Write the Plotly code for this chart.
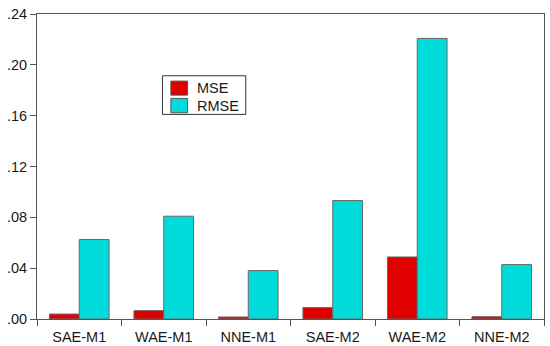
import plotly.graph_objects as go

categories = ["SAE-M1", "WAE-M1", "NNE-M1", "SAE-M2", "WAE-M2", "NNE-M2"]
mse = [0.0039, 0.0066, 0.0016, 0.0090, 0.0488, 0.0018]
rmse = [0.0625, 0.0809, 0.0381, 0.0932, 0.2208, 0.0428]
series_names = ["MSE", "RMSE"]
ytick_vals = [0.00, 0.04, 0.08, 0.12, 0.16, 0.20, 0.24]
ytick_text = [".00", ".04", ".08", ".12", ".16", ".20", ".24"]

colors = ["#e10000", "#00dcdc"]
font_family = "Liberation Sans, Arial, sans-serif"
fs = 14.5

fig = go.Figure()
for name, vals, col in zip(series_names, [mse, rmse], colors):
    fig.add_trace(go.Bar(
        x=categories, y=vals, name=name, showlegend=False,
        marker=dict(color=col, line=dict(color="#666666", width=1)),
    ))

# custom legend (box + swatches + text), paper coordinates
shapes = [dict(type="rect", xref="paper", yref="paper",
               x0=0.2474, x1=0.4118, y0=0.6708, y1=0.7975,
               line=dict(color="#333333", width=1), fillcolor="white")]
sw = [(0.780, 0.734, 0.757), (0.7233, 0.6761, 0.6997)]
annotations = []
for (y1, y0, yc), name, col in zip(sw, series_names, colors):
    shapes.append(dict(type="rect", xref="paper", yref="paper",
                       x0=0.264, x1=0.297, y0=y0, y1=y1,
                       line=dict(color="#555555", width=1), fillcolor=col))
    annotations.append(dict(xref="paper", yref="paper", x=0.3119, y=yc,
                            text=name, showarrow=False, xanchor="left",
                            yanchor="middle",
                            font=dict(family=font_family, size=fs, color="#1a1a1a")))

fig.update_layout(
    width=550, height=346,
    margin=dict(l=37, r=6, t=14, b=27, pad=0),
    paper_bgcolor="white", plot_bgcolor="white",
    barmode="group", bargap=0.295, bargroupgap=0,
    shapes=shapes, annotations=annotations,
    font=dict(family=font_family, size=fs, color="#1a1a1a"),
)
fig.update_xaxes(
    type="category", range=[-0.5, 5.5], tickson="boundaries",
    ticks="outside", ticklen=6, tickcolor="#555555",
    showline=True, linecolor="#555555", linewidth=1, mirror=True,
    showgrid=False, tickfont=dict(size=fs), automargin=False,
    ticklabelstandoff=5,
)
fig.update_yaxes(
    range=[0, 0.24], tickvals=ytick_vals, ticktext=ytick_text,
    ticks="outside", ticklen=6, tickcolor="#555555",
    showline=True, linecolor="#555555", linewidth=1, mirror=True,
    showgrid=False, zeroline=False, tickfont=dict(size=fs), automargin=False,
    ticklabeloverflow="allow",
)

# remove the default 8px page margin so the figure fills the window exactly
fig.write_html("out.html", config={"displayModeBar": False},
               post_script="document.body.style.margin='0';")
